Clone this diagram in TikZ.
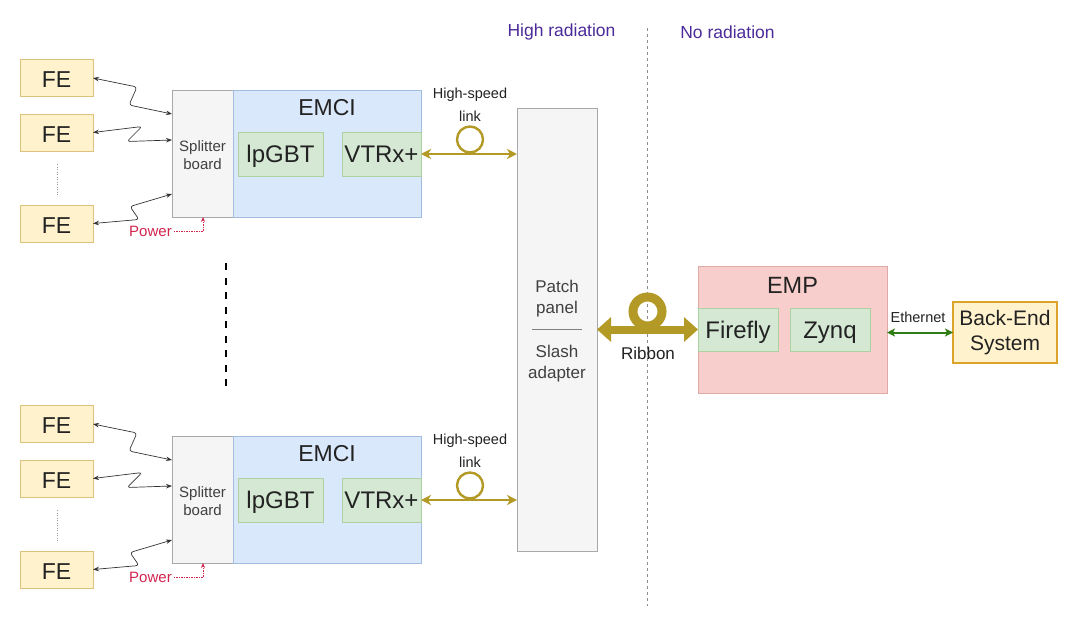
\documentclass[tikz,border=0pt]{standalone}
\usepackage{fontspec}
\setmainfont{Liberation Sans}
\usetikzlibrary{arrows.meta,calc}
\definecolor{feFill}{HTML}{FFF2CC}
\definecolor{feDraw}{HTML}{DCC27A}
\definecolor{grFill}{HTML}{F5F5F5}
\definecolor{grDraw}{HTML}{A8A8A8}
\definecolor{blFill}{HTML}{DAE8FC}
\definecolor{blDraw}{HTML}{A3BCDF}
\definecolor{gnFill}{HTML}{D5E8D4}
\definecolor{gnDraw}{HTML}{AFD0A0}
\definecolor{rdFill}{HTML}{F8CECC}
\definecolor{rdDraw}{HTML}{DDA9A7}
\definecolor{beDraw}{HTML}{DBA32A}
\definecolor{gold}{HTML}{B39A26}
\definecolor{ethGreen}{HTML}{2F7D12}
\definecolor{purp}{HTML}{4B2A99}
\definecolor{pwr}{HTML}{D1254F}
\definecolor{txt}{HTML}{222222}
\newcommand\fsz[2]{\fontsize{#1}{#2}\selectfont}
\begin{document}
\begin{tikzpicture}[x=1pt,y=-1pt,
  box/.style={draw, line width=0.9pt, inner sep=0pt, outer sep=0pt, align=center, text=txt},
  febox/.style={box, fill=feFill, draw=feDraw, minimum width=73pt, minimum height=37pt,
    font=\fsz{23}{27}, text height=16.5pt, text depth=0pt},
  graybox/.style={box, fill=grFill, draw=grDraw},
  bluebox/.style={box, fill=blFill, draw=blDraw},
  greenbox/.style={box, fill=gnFill, draw=gnDraw, font=\fsz{24}{28}, text height=17.2pt, text depth=0pt},
  redbox/.style={box, fill=rdFill, draw=rdDraw},
  lbl/.style={inner sep=0pt, align=center, text=txt},
  wire/.style={draw=black!80, line width=0.7pt, rounded corners=3pt,
    {Stealth[length=6pt,width=4.5pt]}-{Stealth[length=6pt,width=4.5pt]}},
  hslink/.style={draw=gold, line width=2.4pt,
    {Stealth[length=10pt,width=10pt,inset=3pt]}-{Stealth[length=10pt,width=10pt,inset=3pt]}},
  sepline/.style={draw=black!45, line width=1pt, dash pattern=on 3pt off 3pt},
]
\useasboundingbox (0,0) rectangle (1068,616);

% radiation zones
\node[lbl, text=purp, font=\fsz{17.5}{20}] (hirad) at (561.5,32) {High radiation};
\node[lbl, text=purp, font=\fsz{17.5}{20}] (norad) at (727.5,32) {No radiation};
\coordinate (septop) at (647,28);
\coordinate (sepbot) at (647,606);
\draw[sepline] (septop) -- (sepbot);

% patch panel
\node[graybox, minimum width=80pt, minimum height=443pt] (patch) at (557,329.5) {};
\node[lbl, font=\fsz{17}{21}, text=black!75] (patcht) at (557,299) {Patch\\panel};
\node[lbl, font=\fsz{17}{21}, text=black!75] (slasht) at (557,364) {Slash\\adapter};
\coordinate (pl1) at (532,329);
\coordinate (pl2) at (582,329);
\draw[black!50, line width=0.9pt] (pl1) -- (pl2);

% two EMCI groups
\foreach \p/\o in {t/0, b/346} {
\begin{scope}[shift={(0,\o)}]
  \node[febox] (\p fe1) at (56.5,78) {\raisebox{-1.5pt}{FE}};
  \node[febox] (\p fe2) at (56.5,132.5) {\raisebox{-1.5pt}{FE}};
  \node[febox] (\p fe3) at (56.5,223.5) {\raisebox{-1.5pt}{FE}};
  \coordinate (\p d1) at (57,164);
  \coordinate (\p d2) at (57,196);
  \draw[black!40, line width=0.8pt, dash pattern=on 1pt off 1.5pt] (\p d1) -- (\p d2);
  \node[graybox, minimum width=61pt, minimum height=127pt] (\p split) at (202.5,153.5) {};
  \node[lbl, font=\fsz{15}{18}, text=black!75] (\p splitt) at (202.5,155) {Splitter\\board};
  \node[bluebox, minimum width=188pt, minimum height=127pt] (\p emci) at (327,153.5) {};
  \node[lbl, font=\fsz{23}{27}] (\p emcit) at (327,108) {EMCI};
  \node[greenbox, minimum width=85pt, minimum height=44pt] (\p lpgbt) at (280.5,154) {lpGBT};
  \node[greenbox, minimum width=79pt, minimum height=44pt] (\p vtrx) at (381.5,154) {VTRx+};
  % FE wires
  \draw[wire] (\p fe1.east) -- ++(44,9) -- ++(-8,18) -- ([yshift=-24pt]\p split.north west);
  \draw[wire] (\p fe2.east) -- ++(49,-6) -- ++(-15,15) -- ([yshift=-50pt]\p split.north west);
  \draw[wire] (\p fe3.east) -- ++(46,-4) -- ++(-9,-13) -- ([yshift=-104pt]\p split.north west);
  % power
  \node[lbl, text=pwr, font=\fsz{15}{18}] (\p pwr) at (150.5,231.5) {Power};
  \draw[pwr, line width=0.7pt, dash pattern=on 1.5pt off 1pt, -{Stealth[length=5pt,width=4pt]}]
    ([xshift=2pt]\p pwr.east) -| ([xshift=0.5pt]\p split.south);
  % high-speed link
  \node[lbl, font=\fsz{14.5}{23}] (\p hs) at (470,104.5) {High-speed\\link};
  \draw[hslink] (\p vtrx.east) -- (\p vtrx.east -| patch.west);
  \node[circle, draw=gold, line width=2.4pt, minimum size=26pt, inner sep=0pt] (\p loop) at (470,139.5) {};
\end{scope}
}

% vertical ellipsis between groups
\coordinate (vd1) at (226,263);
\coordinate (vd2) at (226,388);
\draw[black, line width=2.6pt, dash pattern=on 7pt off 7.5pt] (vd1) -- (vd2);

% EMP
\node[redbox, minimum width=189pt, minimum height=127pt] (emp) at (792.5,329.5) {};
\node[lbl, font=\fsz{23.5}{27}] (empt) at (792.5,285) {EMP};
\node[greenbox, minimum width=80pt, minimum height=43pt] (firefly) at (738,329.5) {Firefly};
\node[greenbox, minimum width=80pt, minimum height=43pt] (zynq) at (830,329.5) {Zynq};

% ribbon
\draw[gold, line width=8pt, {Triangle[length=14pt,width=24pt]}-{Triangle[length=14pt,width=24pt]}]
  (patch.east |- firefly.west) -- (firefly.west);
\node[circle, draw=gold, line width=9pt, minimum size=29pt, inner sep=0pt] (rloop) at (647.5,311.5) {};
\node[lbl, font=\fsz{17}{20}] (ribt) at (648,353) {Ribbon};

% back-end
\node[box, fill=feFill, draw=beDraw, line width=2pt, minimum width=104pt, minimum height=61pt,
  font=\fsz{21}{26}] (be) at (1005,332.5) {\raisebox{-3pt}{\begin{tabular}{@{}c@{}}Back-End\\[-1pt]System\end{tabular}}};
\node[lbl, font=\fsz{14.5}{17}] (etht) at (918,317) {Ethernet};
\draw[ethGreen, line width=2pt, {Stealth[length=8pt,width=8pt,inset=2pt]}-{Stealth[length=8pt,width=8pt,inset=2pt]}]
  (emp.east |- be.west) -- (be.west);
\end{tikzpicture}
\end{document}
